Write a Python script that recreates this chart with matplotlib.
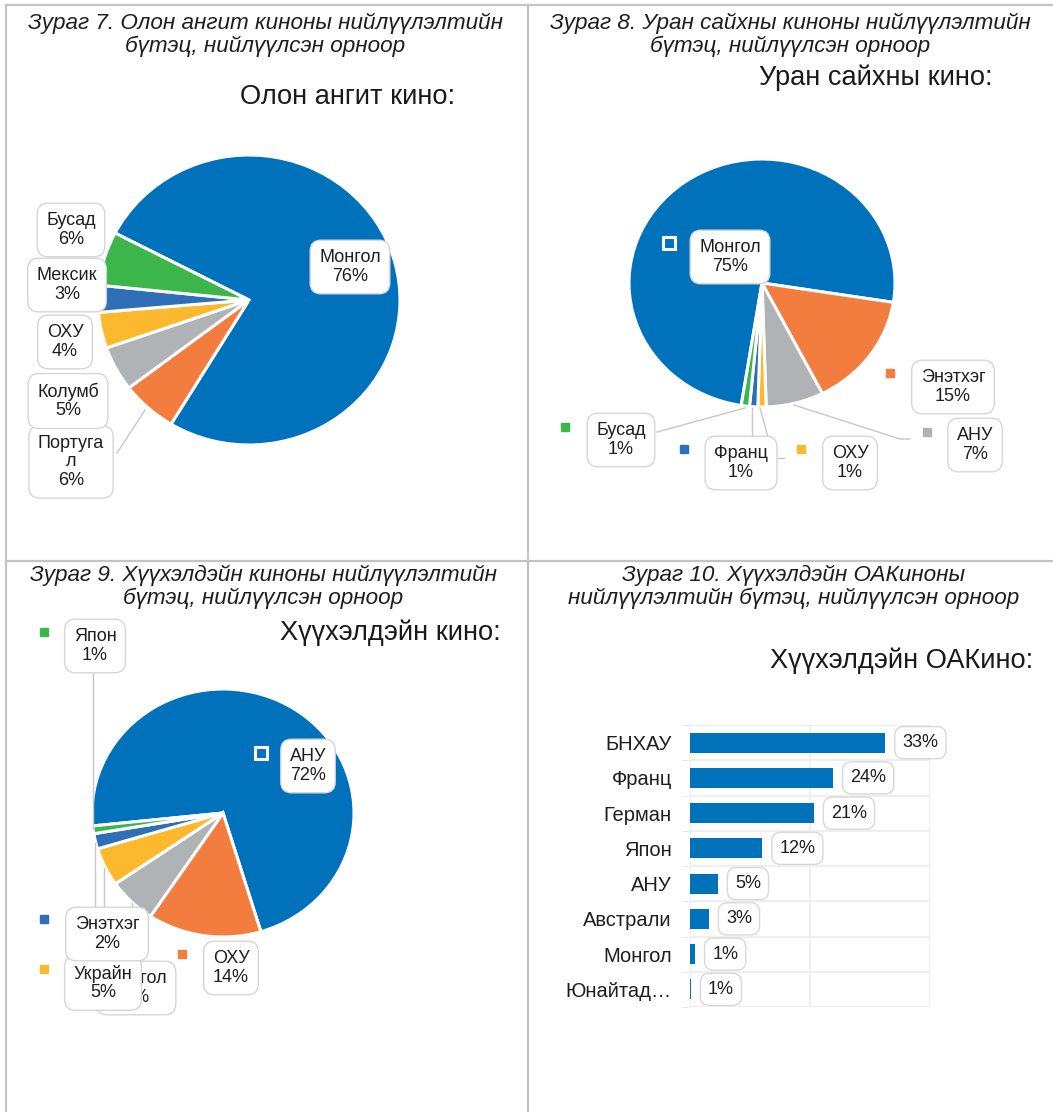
import numpy as np
import matplotlib
matplotlib.use('Agg')
import matplotlib.pyplot as plt

plt.rcParams['font.family'] = ['Liberation Sans', 'DejaVu Sans']

W, H = 1053, 1112

# ---- data
p7_names = ['Монгол', 'Португа\nл', 'Колумб', 'ОХУ', 'Мексик', 'Бусад']
p7_vals = [76, 6, 5, 4, 3, 6]

p8_names = ['Монгол', 'Энэтхэг', 'АНУ', 'ОХУ', 'Франц', 'Бусад']
p8_vals = [75, 15, 7, 1, 1, 1]

p9_names = ['АНУ', 'ОХУ', 'Монгол', 'Украйн', 'Энэтхэг', 'Япон']
p9_vals = [72, 14, 6, 5, 2, 1]

bar_names = ['БНХАУ', 'Франц', 'Герман', 'Япон', 'АНУ', 'Австрали', 'Монгол', 'Юнайтад…']
bar_vals = [32.5, 23.8, 20.6, 12.0, 4.6, 3.1, 0.8, 0.1]
bar_labels = ['33%', '24%', '21%', '12%', '5%', '3%', '1%', '1%']

captions = ['Зураг 7. Олон ангит киноны нийлүүлэлтийн\nбүтэц, нийлүүлсэн орноор',
            'Зураг 8. Уран сайхны киноны нийлүүлэлтийн\nбүтэц, нийлүүлсэн орноор',
            'Зураг 9. Хүүхэлдэйн киноны нийлүүлэлтийн\nбүтэц, нийлүүлсэн орноор',
            'Зураг 10. Хүүхэлдэйн ОАКиноны\nнийлүүлэлтийн бүтэц, нийлүүлсэн орноор']
titles = ['Олон ангит кино:', 'Уран сайхны кино:', 'Хүүхэлдэйн кино:', 'Хүүхэлдэйн ОАКино:']

colors = ['#0072BC', '#F37D3F', '#B0B3B6', '#FDB92E', '#2E6FB7', '#3CB54A']
BLUE = '#0072BC'
LINE = '#c8c8c8'

fig = plt.figure(figsize=(W / 100, H / 100), dpi=100)


def px_axes(x0, y0, x1, y1, z=1):
    return fig.add_axes([x0 / W, 1 - y1 / H, (x1 - x0) / W, (y1 - y0) / H], zorder=z)


def draw_pie(cx, cy, rx, ry, vals, start):
    ax = px_axes(cx - rx, cy - ry, cx + rx, cy + ry)
    ax.pie(vals, colors=colors, startangle=start, counterclock=False,
           wedgeprops=dict(edgecolor='white', linewidth=2.2, clip_on=False))
    ax.set_aspect('auto')
    ax.set_xlim(-1, 1)
    ax.set_ylim(-1, 1)
    ax.axis('off')


draw_pie(249, 300, 151, 145, p7_vals, 152.5)
draw_pie(762, 283, 133, 124, p8_vals, 261)
draw_pie(223, 813, 131, 124, p9_vals, 186)

# ---- bar chart
bx = px_axes(690, 725, 930, 1007)
y = np.arange(len(bar_vals))
bx.barh(y, bar_vals, height=0.57, color=BLUE, zorder=3)
bx.set_xlim(0, 40)
bx.set_ylim(len(bar_vals) - 0.5, -0.5)
bx.hlines(np.arange(-0.5, len(bar_vals)), 0, 40, color='#ececec', lw=1.2, zorder=1)
bx.vlines([0, 20, 40], -0.5, len(bar_vals) - 0.5, color='#ececec', lw=1.2, zorder=1)
for s in bx.spines.values():
    s.set_visible(False)
bx.set_xticks([])
bx.set_yticks(y)
bx.set_yticklabels(bar_names, fontsize=14.5, color='#1e1e1e')
bx.tick_params(axis='y', length=0, pad=13)
bx.set_yticks(np.arange(-0.5, len(bar_vals)), minor=True)
bx.tick_params(axis='y', which='minor', length=6, color='#e4e4e4')
for i, (v, lab) in enumerate(zip(bar_vals, bar_labels)):
    bx.annotate(lab, (v, i), xytext=(12.5, 0), textcoords='offset points',
                ha='left', va='center', fontsize=13, color='#1e1e1e', zorder=5,
                bbox=dict(boxstyle='round,pad=0.42,rounding_size=0.5', fc='white', ec='#d8d8d8', lw=1))

# ---- overlay canvas in pixel coordinates
cv = fig.add_axes([0, 0, 1, 1], zorder=10)
cv.set_xlim(0, W)
cv.set_ylim(H, 0)
cv.axis('off')
cv.patch.set_alpha(0)

# panel dividers
cv.plot([6, 6], [5, H], color='#c4c4c4', lw=1.6)
cv.plot([6, W], [5, 5], color='#c4c4c4', lw=1.6)
cv.plot([6, W], [561, 561], color='#c4c4c4', lw=1.6)
cv.plot([528, 528], [5, H], color='#c4c4c4', lw=1.6)

cap_xy = [(265, 35), (790, 35), (263, 587), (794, 587)]
for (cx, cy), s in zip(cap_xy, captions):
    cv.text(cx, cy, s, ha='center', va='center', fontsize=16.2, style='italic',
            color='#1e1e1e', linespacing=1.1)

title_xy = [(348, 97), (876, 78), (390, 633), (902, 661)]
for (tx, ty), s in zip(title_xy, titles):
    cv.text(tx, ty, s, ha='center', va='center', fontsize=19.6, color='#1a1a1a')


def label(x, y, s, z=5):
    cv.text(x, y, s, ha='center', va='center', fontsize=13, color='#1e1e1e',
            linespacing=1.12, zorder=z,
            bbox=dict(boxstyle='round,pad=0.5,rounding_size=0.6', fc='white', ec='#d6d6d6', lw=1))


def leader(pts):
    xs, ys = zip(*pts)
    cv.plot(xs, ys, color=LINE, lw=1, zorder=2)


def marker(x, y, c, inside=False):
    if inside:
        cv.plot(x, y, marker='s', ms=8, mfc=c, mec='white', mew=2.2, zorder=4)
    else:
        cv.plot(x, y, marker='s', ms=5.5, mfc=c, mec=c, zorder=4)


# pie 7 labels
p7_pos = [(350, 267), (71, 462), (68, 401), (65, 342), (67, 285), (71, 230)]
leader([(117, 453), (145, 410)])
for (lx, ly), n, v in zip(p7_pos, p7_names, p7_vals):
    label(lx, ly, f'{n}\n{v}%')

# pie 8 labels
p8_pos = [(730, 257), (953, 387), (975, 445), (850, 463), (741, 463), (621, 440)]
p8_mark = [(669, 243), (890, 373), (927, 432), (801, 449), (684, 449), (565, 427)]
for pts in [[(657, 432), (745, 408)], [(752, 437), (752, 408)], [(768, 437), (760, 408)],
            [(778, 458), (784, 458)], [(794, 405), (900, 439), (910, 439)]]:
    leader(pts)
for i, ((lx, ly), (mx, my), n, v) in enumerate(zip(p8_pos, p8_mark, p8_names, p8_vals)):
    marker(mx, my, colors[i], inside=(i == 0))
    label(lx, ly, f'{n}\n{v}%')

# pie 9 labels (Монгол box sits under Украйн, as in the source)
p9_pos = [(308, 766), (231, 968), (136, 988), (103, 983), (107, 934), (95, 646)]
p9_mark = [(261, 753), (182, 954), None, (44, 969), (44, 919), (44, 632)]
for pts in [[(93, 671), (93, 829)], [(95, 843), (95, 908)], [(104, 868), (104, 958)],
            [(132, 903), (132, 963)]]:
    leader(pts)
for i, (pos, mk, n, v) in enumerate(zip(p9_pos, p9_mark, p9_names, p9_vals)):
    if mk is not None:
        marker(mk[0], mk[1], colors[i], inside=(i == 0))
    label(pos[0], pos[1], f'{n}\n{v}%', z=5 + i)

fig.savefig('out.png', dpi=100)
